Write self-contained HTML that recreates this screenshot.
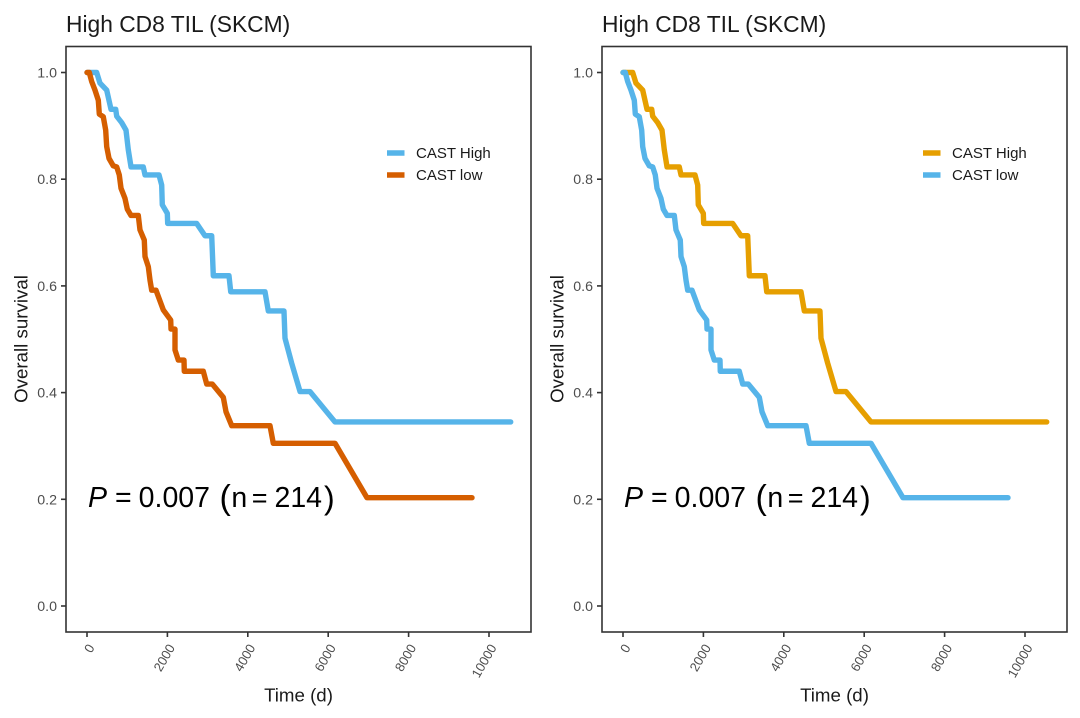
<!DOCTYPE html>
<html>
<head>
<meta charset="utf-8">
<title>High CD8 TIL (SKCM)</title>
<style>
html,body{margin:0;padding:0;background:#fff;width:1080px;height:718px;overflow:hidden}
svg{display:block;font-family:"Liberation Sans",Arial,sans-serif;filter:blur(0.35px)}
</style>
</head>
<body>
<svg id="chart" width="1080" height="718" viewBox="0 0 1080 718" xmlns="http://www.w3.org/2000/svg"></svg>
<script>
const xTicks = [0, 2000, 4000, 6000, 8000, 10000];
const yTicks = [0, 0.2, 0.4, 0.6, 0.8, 1.0];
const highTimes = [0,117,241,323,490,597,714,739,863,970,1027,1095,1400,1443,1791,1858,1873,1998,2007,2729,2935,3102,3142,3532,3575,4428,4510,4900,4925,5092,5299,5547,6169,10540];
const highSurvival = [1,1,1,0.98,0.967,0.931,0.931,0.918,0.906,0.892,0.855,0.823,0.823,0.808,0.808,0.789,0.752,0.736,0.717,0.717,0.694,0.694,0.619,0.619,0.589,0.589,0.553,0.553,0.502,0.455,0.402,0.402,0.345,0.345];
const lowTimes = [0,57,117,199,281,306,405,465,490,547,654,739,803,846,945,1002,1095,1276,1318,1425,1443,1525,1567,1609,1716,1898,2082,2090,2189,2189,2271,2413,2420,2893,2978,3117,3391,3458,3600,4552,4634,6169,6965,9577];
const lowSurvival = [1,1,0.983,0.967,0.948,0.922,0.917,0.892,0.861,0.839,0.825,0.823,0.808,0.783,0.764,0.744,0.732,0.732,0.705,0.686,0.655,0.636,0.611,0.592,0.592,0.555,0.536,0.519,0.519,0.48,0.461,0.461,0.44,0.44,0.416,0.416,0.391,0.364,0.338,0.338,0.305,0.305,0.203,0.203];
const legendLabels = ["CAST High", "CAST low"];
const panelTitle = "High CD8 TIL (SKCM)";

const NS = "http://www.w3.org/2000/svg";
const root = document.getElementById("chart");
const BLUE = "#56B4E9", ORANGE = "#D55E00", GOLD = "#E69F00";

function mk(parent, tag, attrs, text) {
  const el = document.createElementNS(NS, tag);
  for (const k in attrs) el.setAttribute(k, attrs[k]);
  if (text !== undefined) el.textContent = text;
  parent.appendChild(el);
  return el;
}

function drawPanel(offset, key, highColor, lowColor) {
  const g = mk(root, "g", {});
  
  
  const left = 66 + offset, right = 531 + offset, top = 46.5, bottom = 632;
  const sx = t => 87 + offset + t * 0.0402;
  const sy = s => 606 - s * 533.5;

  const title = mk(g, "text", {x: left, y: 32, "font-size": 22.8, fill: "#1a1a1a"}, panelTitle);
  
  

  yTicks.forEach(v => {
    const tick = mk(g, "line", {x1: left - 5, x2: left, y1: sy(v), y2: sy(v), stroke: "#333", "stroke-width": 1.6});
    
    
    const lab = mk(g, "text", {x: left - 9, y: sy(v) + 5, "font-size": 14.2, fill: "#4d4d4d", "text-anchor": "end"}, v.toFixed(1));
    
    
  });

  xTicks.forEach(v => {
    const x = sx(v);
    const tick = mk(g, "line", {x1: x, x2: x, y1: bottom, y2: bottom + 5, stroke: "#333", "stroke-width": 1.6});
    
    
    const ax = x + 8, ay = bottom + 15.5;
    const lab = mk(g, "text", {x: ax, y: ay, "font-size": 13, fill: "#4d4d4d", "text-anchor": "end", transform: "rotate(-60 " + ax + " " + ay + ")"}, String(v));
    
    
  });

  const yTitle = mk(g, "text", {x: 0, y: 0, "font-size": 18.7, fill: "#1a1a1a", "text-anchor": "middle", transform: "translate(" + (27.5 + offset) + " 339) rotate(-90)"}, "Overall survival");
  
  
  const xTitle = mk(g, "text", {x: 298.5 + offset, y: 701.5, "font-size": 18.7, fill: "#1a1a1a", "text-anchor": "middle"}, "Time (d)");
  
  

  const path = (ts, ss) => ts.map((t, i) => (i ? "L" : "M") + sx(t).toFixed(2) + " " + sy(ss[i]).toFixed(2)).join("");
  const highLine = mk(g, "path", {d: path(highTimes, highSurvival), fill: "none", stroke: highColor, "stroke-width": 5.4, "stroke-linejoin": "round", "stroke-linecap": "round"});
  
  
  const lowLine = mk(g, "path", {d: path(lowTimes, lowSurvival), fill: "none", stroke: lowColor, "stroke-width": 5.4, "stroke-linejoin": "round", "stroke-linecap": "round"});
  
  

  const frame = mk(g, "rect", {x: left, y: top, width: right - left, height: bottom - top, fill: "none", stroke: "#333", "stroke-width": 1.6});
  
  

  [highColor, lowColor].forEach((c, i) => {
    const y = 153 + i * 22;
    const sw = mk(g, "line", {x1: 387 + offset, x2: 404.5 + offset, y1: y, y2: y, stroke: c, "stroke-width": 5.4});
    
    
    const t = mk(g, "text", {x: 416 + offset, y: y + 5, "font-size": 15, fill: "#1a1a1a"}, legendLabels[i]);
    
    
  });

  const note = mk(g, "text", {x: 88 + offset, y: 507, "font-size": 28.5, fill: "#000"});
  
  
  mk(note, "tspan", {"font-style": "italic"}, "P");
  mk(note, "tspan", {dx: 8}, "=");
  mk(note, "tspan", {dx: 7}, "0.007");
  mk(note, "tspan", {dx: 9.5, "font-size": 34, dy: 2}, "(");
  mk(note, "tspan", {dx: 0.5, dy: -2}, "n");
  mk(note, "tspan", {dx: 4.5, "font-size": 27}, "=");
  mk(note, "tspan", {dx: 7}, "214");
  mk(note, "tspan", {dx: 2, "font-size": 32, dy: 2}, ")");
}

drawPanel(0, "left", BLUE, ORANGE);
drawPanel(536, "right", GOLD, BLUE);
</script>
</body>
</html>
